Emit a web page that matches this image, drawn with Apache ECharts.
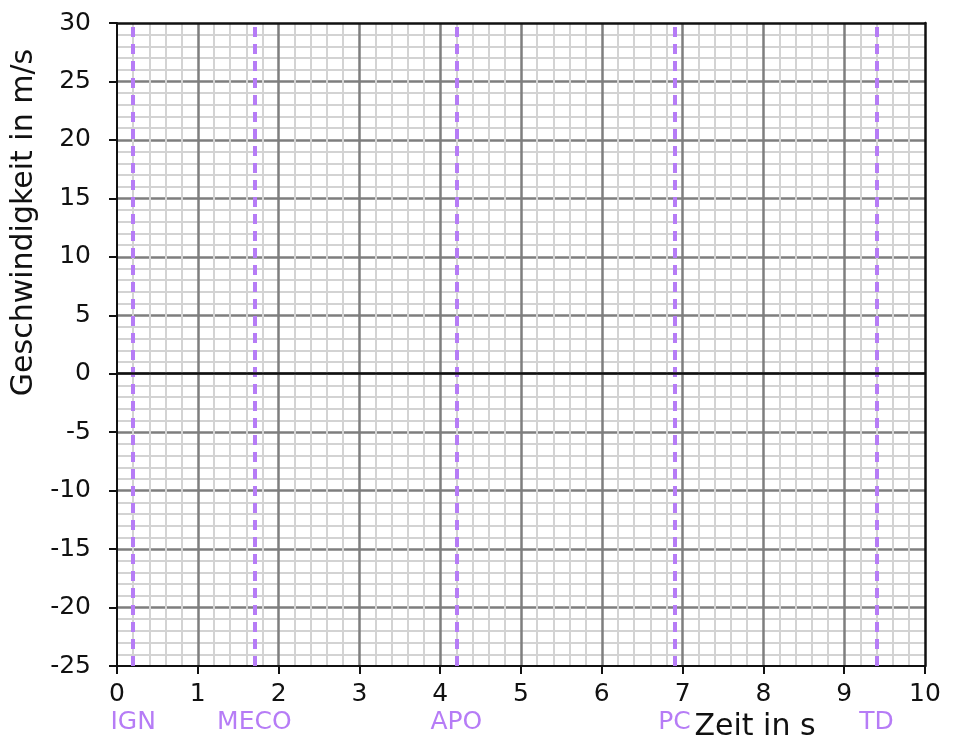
<!DOCTYPE html>
<html>
<head>
<meta charset="utf-8">
<script src="https://cdn.jsdelivr.net/npm/echarts@6/dist/echarts.min.js"></script>
<style>
  html, body { margin: 0; padding: 0; background: #fff; }
  #chart { width: 955px; height: 739px; }
</style>
</head>
<body>
<div id="chart"></div>
<script>
// flight events (time in s)
const eventNames = ['IGN', 'MECO', 'APO', 'PC', 'TD']
const eventTimes = [0.2, 1.7, 4.2, 6.9, 9.4]

const xRange = [0, 10]
const yRange = [-25, 30]

const FONT = 'DejaVu Sans'
const PURPLE = '#b67cf6'

const borderAxis = {
    axisLine: { show: true, onZero: false, lineStyle: { color: '#111', width: 2.5 } },
    axisTick: { show: false },
    axisLabel: { show: false },
    splitLine: { show: false },
    z: 10
}

let markData = eventNames.map((name, i) => ({
    name: name,
    xAxis: eventTimes[i]
}))
markData.push({
    name: 'zero',
    yAxis: 0,
    lineStyle: { color: '#111', type: 'solid', width: 2.5 },
    label: { show: false }
})

const option = {
    animation: false,
    grid: {
        left: 117,
        right: 30,
        top: 23,
        bottom: 73,
        outerBoundsMode: 'none'
    },
    xAxis: [
        {
            type: 'value',
            min: xRange[0],
            max: xRange[1],
            interval: 1,
            name: 'Zeit in s',
            nameLocation: 'middle',
            nameGap: 46,
            nameTextStyle: {
                fontFamily: FONT,
                fontSize: 30,
                color: '#111',
                padding: [0, 0, 0, 468]
            },
            axisLine: { onZero: false, lineStyle: { color: '#111', width: 2 } },
            axisTick: { length: 8, lineStyle: { color: '#111', width: 2 } },
            axisLabel: { fontFamily: FONT, fontSize: 25, color: '#111', margin: 16 },
            splitLine: { showMinLine: false, showMaxLine: false, lineStyle: { color: '#7e7e7e', width: 2.5 } },
            minorTick: { show: false, splitNumber: 5 },
            minorSplitLine: { show: true, lineStyle: { color: '#d3d3d3', width: 2 } }
        },
        Object.assign({ type: 'value', position: 'top', min: xRange[0], max: xRange[1] }, borderAxis)
    ],
    yAxis: [
        {
            type: 'value',
            min: yRange[0],
            max: yRange[1],
            interval: 5,
            name: 'Geschwindigkeit in m/s',
            nameLocation: 'middle',
            nameGap: 67,
            nameTextStyle: {
                fontFamily: FONT,
                fontSize: 30,
                color: '#111',
                padding: [0, 0, 0, 244]
            },
            axisLine: { onZero: false, lineStyle: { color: '#111', width: 2 } },
            axisTick: { length: 8, lineStyle: { color: '#111', width: 2 } },
            axisLabel: { fontFamily: FONT, fontSize: 25, color: '#111', margin: 26 },
            splitLine: { showMinLine: false, showMaxLine: false, lineStyle: { color: '#7e7e7e', width: 2.5 } },
            minorTick: { show: false, splitNumber: 5 },
            minorSplitLine: { show: true, lineStyle: { color: '#d3d3d3', width: 2 } }
        },
        Object.assign({ type: 'value', position: 'right', min: yRange[0], max: yRange[1] }, borderAxis)
    ],
    series: [
        {
            type: 'line',
            data: [],
            markLine: {
                silent: true,
                symbol: ['none', 'none'],
                lineStyle: { color: PURPLE, type: [10, 7], width: 4 },
                label: {
                    show: true,
                    position: 'start',
                    distance: 44,
                    formatter: '{b}',
                    fontFamily: FONT,
                    fontSize: 25,
                    color: PURPLE
                },
                data: markData
            }
        }
    ]
}

const myChart = echarts.init(document.getElementById('chart'))
myChart.setOption(option)
</script>
</body>
</html>
